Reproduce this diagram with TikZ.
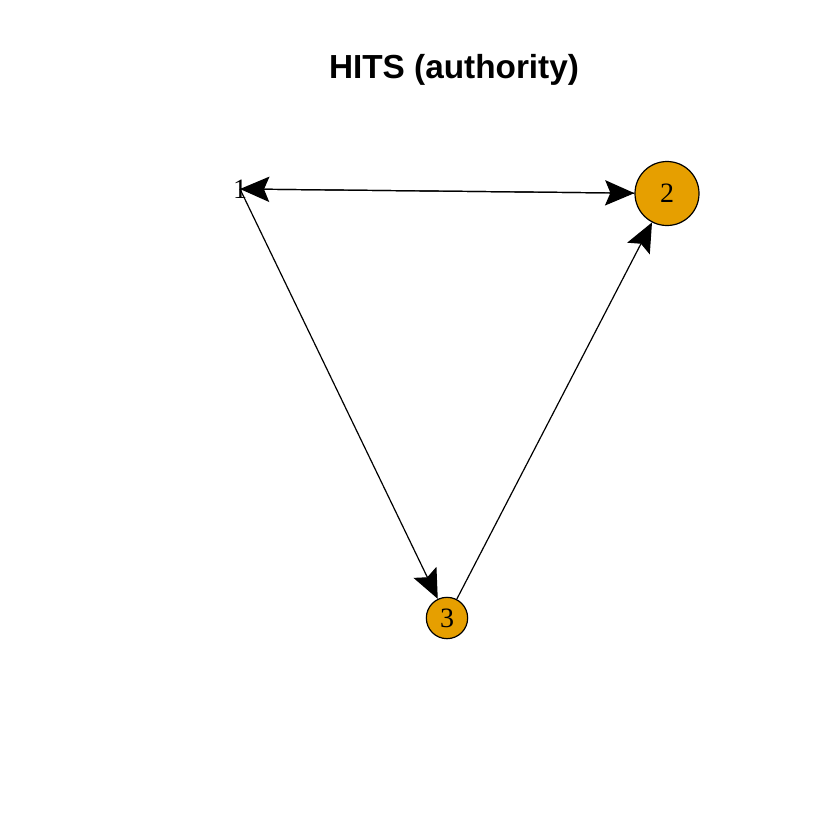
\documentclass[tikz,border=0pt]{standalone}
\usepackage{fontspec}
\setmainfont{Liberation Serif}
\newfontfamily\titlefont{Liberation Sans}
\usetikzlibrary{arrows.meta}
\definecolor{authfill}{RGB}{230,159,0}
\tikzset{
  vertex/.style={circle,draw=black,line width=0.9pt,fill=authfill,inner sep=0pt,font=\fontsize{21}{24}\selectfont},
  vlabel/.style={inner sep=0pt,font=\fontsize{21}{24}\selectfont},
  link/.style={line width=0.9pt,-{Stealth[length=22pt,width=19pt,inset=4pt]}}
}
\begin{document}
\begin{tikzpicture}[x=0.75pt,y=0.75pt,yscale=-1,xscale=1]
\useasboundingbox (0,0) rectangle (840,840);

% Text Node
\draw (454,70) node [font=\titlefont\bfseries\fontsize{25}{30}\selectfont] {HITS (authority)};

%Shape: Vertices
\coordinate (v1) at (240,189);
\node [vertex,minimum size=48pt] (v2) at (667,193.5) {2};
\node [vertex,minimum size=31pt] (v3) at (447,618) {3};
% Text Node
\node [vlabel] (l1) at (v1) {1};

%Straight Lines
\draw [link] (v1) -- (v2);
\draw [link] (v2) -- (v1);
\draw [link] (v1) -- (v3);
\draw [link] (v3) -- (v2);

\end{tikzpicture}
\end{document}
